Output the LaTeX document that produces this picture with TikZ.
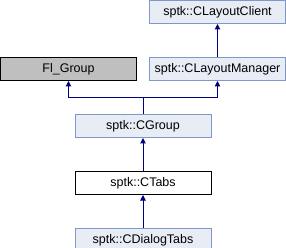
\documentclass[tikz,border=0pt]{standalone}
\usepackage{fontspec}
\setmainfont{Liberation Sans}
\usepackage{tikz}
\usetikzlibrary{positioning,arrows.meta,calc}
\definecolor{clsfill}{HTML}{E8ECF5}
\definecolor{clsdraw}{HTML}{7F98CC}
\definecolor{inhblue}{HTML}{000080}

\begin{document}
\begin{tikzpicture}[
  x=1pt, y=1pt, node distance=33pt and 12pt,
  cls/.style={draw=clsdraw, fill=clsfill, line width=1pt, minimum width=136pt,
              minimum height=23pt, inner sep=0pt, font=\fontsize{12.5}{14}\selectfont},
  ext/.style={cls, draw=black, fill=black!25},
  cur/.style={cls, draw=black, fill=white},
  inh/.style={draw=inhblue, line width=1pt, -{Triangle[length=5.5pt, width=5.5pt]}}]
  \useasboundingbox (0,0) rectangle (286,-248);
  \node[cls] (client) at (217.5,-12) {sptk::CLayoutClient};
  \node[cls, below=of client] (mgr) {sptk::CLayoutManager};
  \node[ext, left=of mgr] (fi) {Fl\_Group};
  \node[cls, below=of {$(fi.south)!0.5!(mgr.south)$}] (grp) {sptk::CGroup};
  \node[cur, below=of grp] (tabs) {sptk::CTabs};
  \node[cls, below=of tabs] (dlg) {sptk::CDialogTabs};
  \coordinate[above=16.5pt of grp.north] (fork);
  \draw[inh] (mgr) -- (client);
  \draw[inh] (grp.north) -- (fork) -| (fi.south);
  \draw[inh] (fork) -| (mgr.south);
  \draw[inh] (tabs) -- (grp);
  \draw[inh] (dlg) -- (tabs);
\end{tikzpicture}
\end{document}
